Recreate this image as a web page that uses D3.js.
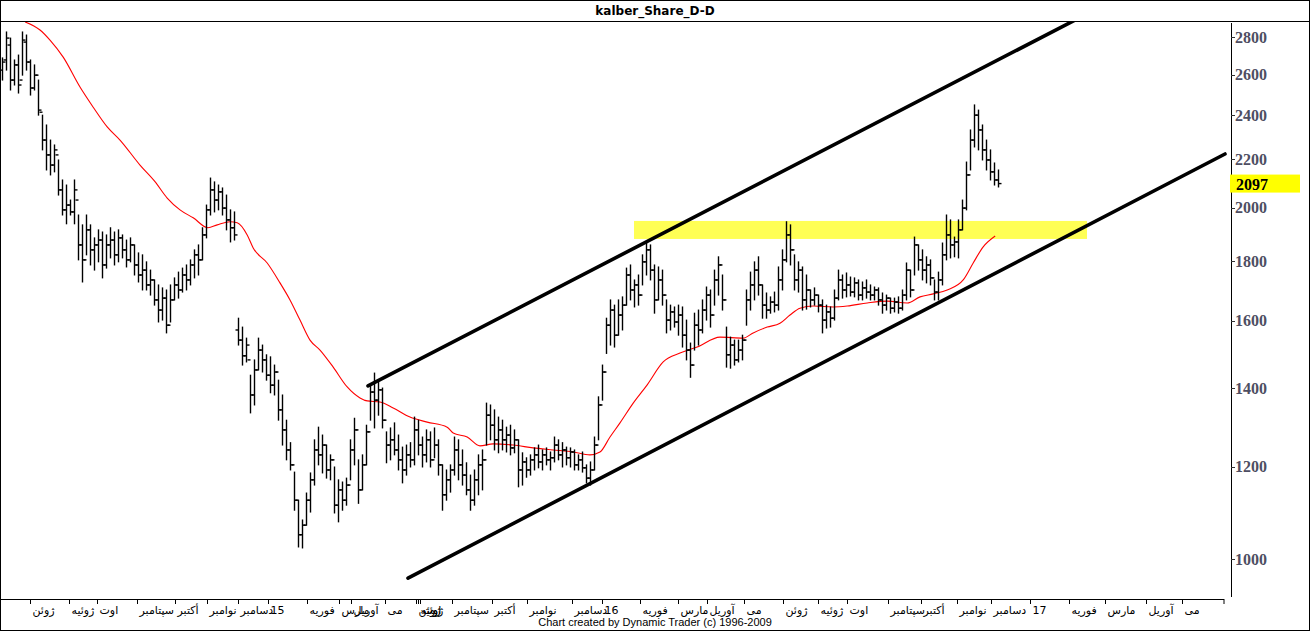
<!DOCTYPE html>
<html><head><meta charset="utf-8">
<script src="https://cdn.jsdelivr.net/npm/d3@7"></script>
<style>body{margin:0;background:#fff}svg{display:block}</style>
</head><body>
<script>
// ---- data (prices) ----
const H=[2687,2828,2794,2676,2702,2828,2811,2676,2650,2572,2400,2354,2285,2263,2197,2112,2091,2030,2112,1971,1933,1971,1933,1884,1914,1906,1895,1922,1906,1914,1895,1876,1884,1858,1829,1822,1797,1768,1734,1717,1707,1700,1717,1741,1761,1775,1786,1804,1840,1858,1922,2010,2120,2104,2091,2079,2050,1991,1983,1608,1580,1546,1437,1481,1546,1525,1496,1490,1466,1423,1382,1315,1258,1187,1123,1080,1139,1185,1265,1297,1277,1252,1228,1199,1169,1164,1173,1265,1320,1216,1228,1302,1409,1443,1423,1401,1285,1295,1308,1277,1247,1252,1258,1323,1315,1272,1290,1285,1295,1265,1204,1192,1204,1272,1265,1240,1209,1180,1192,1228,1240,1360,1355,1342,1323,1315,1297,1302,1290,1265,1233,1221,1228,1245,1252,1240,1245,1235,1272,1265,1258,1247,1245,1240,1228,1235,1204,1211,1272,1377,1466,1608,1667,1650,1667,1677,1775,1786,1734,1751,1822,1865,1858,1786,1779,1768,1667,1650,1644,1650,1644,1602,1531,1624,1634,1667,1710,1700,1768,1815,1751,1580,1549,1540,1540,1555,1700,1761,1797,1815,1717,1690,1677,1693,1779,1840,1945,1933,1822,1797,1779,1751,1700,1707,1683,1667,1650,1644,1700,1768,1751,1758,1744,1741,1734,1727,1734,1717,1710,1707,1690,1683,1673,1673,1677,1700,1793,1768,1887,1858,1840,1815,1804,1734,1761,1865,1971,1952,1887,1952,2030,2188,2331,2449,2424,2354,2285,2241,2184,2154];
const L=[2572,2623,2522,2547,2507,2597,2623,2497,2522,2400,2241,2154,2133,2146,2050,1971,1937,1971,1937,1804,1727,1822,1786,1768,1797,1741,1775,1811,1786,1797,1811,1779,1797,1751,1727,1700,1700,1683,1650,1596,1602,1562,1596,1667,1673,1693,1700,1717,1741,1751,1804,1884,1971,1983,1991,1971,1914,1869,1876,1525,1466,1475,1334,1355,1452,1446,1423,1388,1382,1315,1252,1216,1192,1101,1024,1022,1069,1097,1157,1204,1185,1173,1169,1095,1076,1101,1112,1169,1204,1116,1146,1204,1315,1295,1328,1295,1209,1216,1228,1192,1162,1180,1199,1204,1228,1199,1211,1199,1221,1180,1101,1123,1141,1180,1169,1157,1135,1101,1112,1135,1146,1252,1265,1240,1233,1240,1235,1228,1233,1153,1157,1175,1180,1192,1197,1192,1204,1192,1211,1216,1199,1204,1199,1192,1192,1187,1162,1157,1192,1265,1368,1500,1525,1519,1555,1571,1650,1667,1644,1650,1717,1751,1734,1624,1667,1650,1562,1571,1580,1555,1519,1481,1431,1510,1525,1562,1602,1580,1650,1683,1634,1460,1457,1466,1475,1481,1586,1634,1667,1683,1608,1608,1624,1628,1634,1700,1797,1786,1700,1693,1634,1637,1644,1650,1628,1562,1577,1580,1602,1667,1673,1677,1680,1677,1667,1667,1673,1667,1667,1650,1624,1634,1624,1628,1624,1634,1667,1677,1751,1768,1734,1724,1717,1667,1667,1717,1804,1811,1815,1811,1914,1991,2154,2254,2241,2197,2154,2112,2091,2083];
const O=[2623,2676,2756,2572,2650,2572,2772,2665,2532,2597,2414,2285,2219,2175,2219,2071,1991,2010,1983,2030,1858,1804,1914,1840,1858,1876,1786,1858,1876,1822,1884,1840,1804,1858,1786,1751,1768,1717,1734,1667,1634,1673,1586,1667,1717,1700,1751,1734,1786,1822,1804,1895,1991,2071,2030,2063,1998,1952,1922,1571,1540,1493,1481,1382,1452,1510,1481,1437,1409,1446,1342,1290,1240,1204,1123,1049,1069,1123,1169,1240,1228,1252,1192,1216,1112,1146,1123,1157,1240,1290,1146,1204,1285,1390,1368,1396,1315,1252,1265,1240,1216,1192,1228,1216,1290,1252,1228,1265,1216,1252,1204,1135,1169,1192,1240,1204,1180,1146,1123,1169,1204,1216,1328,1302,1265,1290,1265,1277,1245,1265,1192,1211,1192,1216,1228,1211,1228,1216,1221,1252,1228,1240,1221,1235,1204,1216,1197,1173,1192,1252,1355,1446,1586,1634,1555,1618,1650,1751,1700,1717,1683,1797,1840,1768,1667,1734,1683,1602,1628,1596,1618,1555,1510,1466,1586,1571,1634,1683,1618,1734,1786,1667,1496,1525,1481,1510,1540,1667,1717,1768,1717,1650,1634,1660,1650,1734,1804,1895,1840,1734,1768,1667,1700,1667,1683,1650,1602,1628,1608,1673,1734,1700,1717,1693,1724,1683,1707,1693,1683,1700,1667,1650,1673,1640,1660,1640,1683,1768,1700,1858,1804,1768,1786,1741,1693,1734,1822,1895,1858,1869,1914,1998,2133,2285,2400,2331,2241,2197,2146,2112];
const C=[2665,2794,2572,2650,2547,2783,2665,2532,2597,2424,2285,2219,2175,2241,2071,1991,2010,1983,2071,1858,1804,1914,1840,1858,1876,1786,1858,1876,1822,1884,1840,1804,1858,1786,1751,1768,1717,1734,1667,1634,1673,1586,1667,1717,1700,1751,1734,1786,1822,1804,1895,1991,2071,2030,2063,1998,1952,1922,1895,1540,1493,1525,1382,1452,1510,1481,1437,1409,1446,1342,1290,1240,1204,1123,1049,1069,1123,1169,1240,1228,1252,1192,1216,1112,1146,1123,1157,1240,1290,1146,1204,1285,1390,1368,1396,1315,1252,1265,1240,1216,1192,1228,1216,1290,1252,1228,1265,1216,1252,1204,1135,1169,1192,1240,1204,1180,1146,1123,1169,1204,1216,1328,1302,1265,1290,1265,1277,1245,1265,1192,1211,1192,1216,1228,1211,1228,1216,1221,1252,1228,1240,1221,1235,1204,1216,1197,1173,1192,1252,1355,1446,1586,1634,1555,1618,1650,1751,1700,1717,1683,1797,1840,1768,1667,1734,1683,1602,1628,1596,1618,1555,1510,1466,1586,1571,1634,1683,1618,1734,1786,1667,1496,1525,1481,1510,1540,1667,1717,1768,1717,1650,1634,1660,1650,1734,1804,1895,1840,1734,1768,1667,1700,1667,1683,1650,1602,1628,1608,1673,1734,1700,1717,1693,1724,1683,1707,1693,1683,1700,1667,1650,1673,1640,1660,1640,1683,1768,1700,1858,1804,1768,1786,1741,1693,1734,1822,1895,1858,1869,1914,1998,2133,2285,2400,2331,2241,2197,2146,2112,2097];
// moving average (bar position, price)
const maPos=[5.8,9.5,12,15.3,19.5,22.8,26.3,29.5,34.5,38.3,41.3,44.5,47.8,51.5,53.8,57,58.8,61.3,62.8,66.3,69.5,72,74.5,77,79.5,82.8,86.3,89.5,91.3,94.5,97.8,102,106.3,111.3,112.8,116.3,119.5,122.8,127.8,132.8,137.8,142.8,147,149.5,152,154.5,157.8,161.3,165.3,169.5,173.8,179.5,185.3,187.8,191.3,194.5,197,199.5,202.8,207.8,211.3,216.3,221.3,226.3,229.5,232.8,236.3,240.3,242.8,245.3,248.3];
const maVal=[2884,2839,2783,2691,2537,2438,2345,2285,2175,2104,2038,1991,1960,1922,1933,1945,1941,1895,1847,1793,1724,1667,1602,1540,1510,1460,1404,1374,1366,1363,1347,1323,1310,1297,1282,1272,1250,1255,1252,1245,1240,1235,1228,1235,1272,1308,1360,1410,1475,1501,1519,1549,1546,1562,1580,1592,1618,1640,1647,1644,1647,1657,1663,1657,1677,1687,1700,1734,1793,1851,1891];
// channel lines [pos, price]
const upperLine=[[91.5,1407],[268.25,2895]];
const lowerLine=[[101.5,963],[305.75,2223]];
// resistance band
const bandPos=[158,271.25];
const bandPrice=[1880,1948];
const lastPrice=2097;
const yTicks=[1000,1200,1400,1600,1800,2000,2200,2400,2600,2800];
const monthPos=[7,16.75,23.75,33.75,43.25,51.25,59,66.5,76.25,84.25,87.25,95.75,103.5,104,104.5,112.5,122.5,131.25,142.5,150,159.5,169,176.25,185.5,195.25,204,211.25,221.5,229.75,238.75,247.25,257,266.75,275.75,286,295];
const monthLabels=["ژوئن","ژوئیه","اوت","سپتامبر","أکتبر","نوامبر","دسامبر","15","فوریه","مارس","آوریل","می","ژوئن","ژوئیه","اوت","سپتامبر","أکتبر","نوامبر","دسامبر","16","فوریه","مارس","آوریل","می","ژوئن","ژوئیه","اوت","سپتامبر","أکتبر","نوامبر","دسامبر","17","فوریه","مارس","آوریل","می"];
const title="kalber_Share_D-D";
const footer="Chart created by Dynamic Trader  (c) 1996-2009";

// ---- drawing ----
const W=1310,Hh=631;
const svg=d3.select("body").append("svg").attr("width",W).attr("height",Hh);
const x=d3.scaleLinear().domain([0,305.5]).range([2,1224]);
const y=d3.scaleLog().domain([1000,2800]).range([559,37]);
const plotL=0,plotR=1231,plotT=22,plotB=597;

svg.append("defs").append("clipPath").attr("id","clip").append("rect")
  .attr("x",plotL).attr("y",plotT).attr("width",plotR-plotL).attr("height",plotB-plotT);

svg.append("rect").attr("x",0.5).attr("y",0.5).attr("width",W-1).attr("height",Hh-1)
  .attr("fill","#fff").attr("stroke","#000");
svg.append("line").attr("x1",0).attr("x2",W).attr("y1",21.5).attr("y2",21.5).attr("stroke","#000");
svg.append("text").attr("x",655).attr("y",15).attr("text-anchor","middle")
  .attr("font-family","DejaVu Sans, Verdana, sans-serif").attr("font-weight","bold").attr("font-size",12)
  .text(title);

const g=svg.append("g").attr("clip-path","url(#clip)");
// band
g.append("rect").attr("x",x(bandPos[0])).attr("width",x(bandPos[1])-x(bandPos[0]))
  .attr("y",y(bandPrice[1])).attr("height",y(bandPrice[0])-y(bandPrice[1])).attr("fill","#ffff55");
// MA
g.append("path").datum(maPos.map((p,i)=>[p,maVal[i]]))
  .attr("d",d3.line().x(d=>x(d[0])).y(d=>y(d[1])).curve(d3.curveMonotoneX))
  .attr("fill","none").attr("stroke","#ff0000").attr("stroke-width",1.1);
// bars
const bars=g.append("g").attr("stroke","#000").attr("stroke-width",1.4).attr("fill","none");
H.forEach((h,i)=>{
  const xx=Math.round(x(i))+0.5;
  bars.append("line").attr("x1",xx).attr("x2",xx).attr("y1",y(h)-0.5).attr("y2",y(L[i])+0.5);
  bars.append("line").attr("x1",xx-3).attr("x2",xx).attr("y1",y(O[i])).attr("y2",y(O[i]));
  bars.append("line").attr("x1",xx).attr("x2",xx+3).attr("y1",y(C[i])).attr("y2",y(C[i]));
});
// channel
[upperLine,lowerLine].forEach(l=>{
  g.append("line").attr("x1",x(l[0][0])).attr("y1",y(l[0][1])).attr("x2",x(l[1][0])).attr("y2",y(l[1][1]))
   .attr("stroke","#000").attr("stroke-width",3.6).attr("stroke-linecap","round");
});

// right axis
svg.append("line").attr("x1",1231.5).attr("x2",1231.5).attr("y1",23).attr("y2",597).attr("stroke","#000");
const ya=svg.append("g");
yTicks.forEach(t=>{
  ya.append("line").attr("x1",1231).attr("x2",1235).attr("y1",Math.round(y(t))+0.5).attr("y2",Math.round(y(t))+0.5).attr("stroke","#333");
  ya.append("text").attr("x",1235).attr("y",y(t)+5.5).attr("font-family","Liberation Serif, Times New Roman, serif")
    .attr("font-weight","bold").attr("font-size",16).attr("fill","#4e4e62").text(t);
});
const ly=y(lastPrice);
svg.append("rect").attr("x",1230).attr("y",ly-9).attr("width",70).attr("height",18).attr("fill","#ffff00");
svg.append("text").attr("x",1236).attr("y",ly+6).attr("font-family","Liberation Serif, Times New Roman, serif")
  .attr("font-weight","bold").attr("font-size",16).attr("fill","#000").text(lastPrice);

// bottom axis
svg.append("line").attr("x1",0).attr("x2",x(305.5)).attr("y1",599.5).attr("y2",599.5).attr("stroke","#000");
const xa=svg.append("g");
monthPos.forEach((p,i)=>{
  const xx=Math.round(x(p))+0.5;
  xa.append("line").attr("x1",xx).attr("x2",xx).attr("y1",599).attr("y2",604).attr("stroke","#000");
  xa.append("text").attr("x",xx+2).attr("y",614).attr("font-family","DejaVu Sans, sans-serif")
    .attr("font-size",11).attr("fill","#000").text(monthLabels[i]);
});
xa.append("line").attr("x1",x(305.5)).attr("x2",x(305.5)).attr("y1",599).attr("y2",604).attr("stroke","#000");
svg.append("text").attr("x",655).attr("y",626).attr("text-anchor","middle")
  .attr("font-family","Liberation Sans, Arial, sans-serif").attr("font-size",11).attr("fill","#000").text(footer);
</script>
</body></html>
